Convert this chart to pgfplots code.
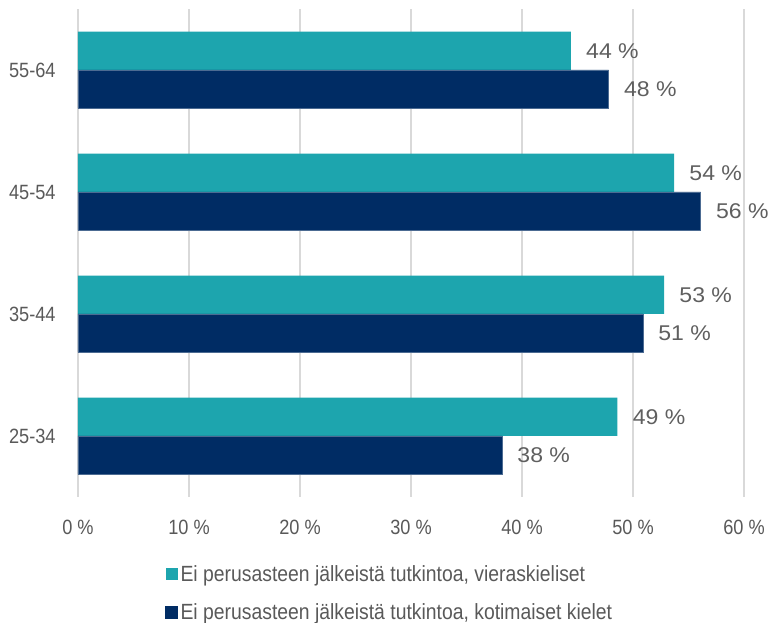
\documentclass[border=0pt]{standalone}
\usepackage{pgfplots}
\pgfplotsset{compat=1.18}
\usepackage{fontspec}
\setmainfont{Liberation Sans}[FakeStretch=0.88]
\newfontfamily\lblfont{Liberation Sans}[FakeStretch=1.08]
\definecolor{teal1}{HTML}{1DA5AE}
\definecolor{navy1}{HTML}{002C64}
\definecolor{txt}{HTML}{595959}
\definecolor{lbl}{HTML}{5F5F5F}
\begin{document}
\begin{tikzpicture}
\begin{axis}[
  name=ax,
  scale only axis, width=499.5pt, height=366pt,
  xbar, bar width=0.315,
  xmin=0, xmax=60, ymin=-0.5, ymax=3.5,
  xtick={0,10,...,60},
  xticklabel={\pgfmathprintnumber{\tick}~\%},
  ytick={0,1,2,3}, yticklabels={25-34,35-44,45-54,55-64},
  xmajorgrids, major grid style={color=black!15, line width=0.8pt},
  axis line style={draw=none},
  tick style={draw=none},
  ticklabel style={font=\fontsize{15.5}{17}\selectfont, text=txt},
  xticklabel style={yshift=-13.5pt},
  yticklabel style={xshift=-9pt},
  /pgf/number format/assume math mode=true,
  point meta=x,
  nodes near coords={\pgfmathprintnumber[fixed,precision=0]{\pgfplotspointmeta}~\%},
  every node near coord/.append style={font=\lblfont\fontsize{16}{18}\selectfont, text=lbl, anchor=west, xshift=8pt},
  legend style={at={(0.1246,-0.128)}, anchor=north west, draw=none, fill=none,
    font=\fontsize{16.5}{18}\selectfont, text=txt, row sep=11.5pt,
    /tikz/every even column/.append style={column sep=2pt}},
  legend cell align=left,
]
\addplot[fill=teal1, draw=none, bar shift=0.1575,
  legend image code/.code={\fill[teal1] (0pt,-4.5pt) rectangle (9pt,4.5pt);}]
  coordinates {(48.6,0) (52.8,1) (53.7,2) (44.4,3)};
\addlegendentry{Ei perusasteen jälkeistä tutkintoa, vieraskieliset}
\addplot[fill=navy1, draw=navy1!70!white, line width=0.5pt, bar shift=-0.1575,
  legend image code/.code={\fill[navy1] (0pt,-4.5pt) rectangle (9pt,4.5pt);}]
  coordinates {(38.2,0) (50.9,1) (56.1,2) (47.8,3)};
\addlegendentry{Ei perusasteen jälkeistä tutkintoa, kotimaiset kielet}
\end{axis}
\pgfresetboundingbox
\path ([shift={(-58.5pt,-94.5pt)}]ax.south west) rectangle ([shift={(517.5pt,372.75pt)}]ax.south west);
\end{tikzpicture}
\end{document}
